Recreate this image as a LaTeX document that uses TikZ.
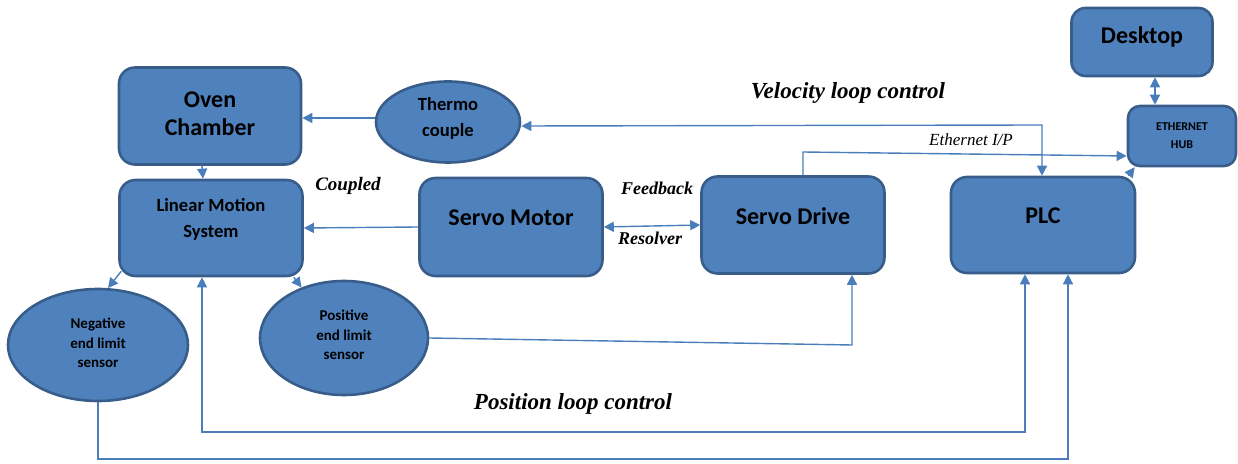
\documentclass[tikz,border=0pt]{standalone}
\usepackage{fontspec}
\setmainfont{Liberation Serif}
\newfontfamily\boxfont{Carlito}
\usetikzlibrary{arrows.meta}
\usetikzlibrary{shapes.geometric}
\definecolor{blkfill}{HTML}{4F81BD}
\definecolor{blkedge}{HTML}{385D8A}
\definecolor{wirecol}{HTML}{4A7EBB}
\tikzset{
  blk/.style={draw=blkedge,fill=blkfill,line width=1.3pt,rounded corners=8pt,inner sep=0pt},
  oval/.style={ellipse,draw=blkedge,fill=blkfill,line width=1.3pt,inner sep=0pt},
  big/.style={align=center,text=black,font=\boxfont\bfseries\fontsize{12}{14}\selectfont},
  mid/.style={align=center,text=black,font=\boxfont\bfseries\fontsize{9.3}{13}\selectfont},
  small/.style={align=center,text=black,font=\boxfont\bfseries\fontsize{7.5}{9.8}\selectfont},
  tiny/.style={align=center,text=black,font=\boxfont\bfseries\fontsize{6}{9}\selectfont},
  note/.style={font=\bfseries\itshape\fontsize{9}{11}\selectfont},
  loopnote/.style={font=\bfseries\itshape\fontsize{11.5}{13}\selectfont},
  wire/.style={draw=wirecol,line width=0.7pt},
  tip/.style={-{Triangle[length=5pt,width=5pt]}},
  tips/.style={{Triangle[length=5pt,width=5pt]}-{Triangle[length=5pt,width=5pt]}}
}

\begin{document}
\begin{tikzpicture}[x=0.5pt,y=-0.5pt]
\useasboundingbox (0,0) rectangle (1238,464);
\node [blk,minimum width=91pt,minimum height=48.5pt,label={[big,yshift=1pt]center:Oven\\Chamber}] (oven) at (210,116) {};
\node [blk,minimum width=91.5pt,minimum height=48pt,label={[mid,yshift=4.5pt]center:Linear Motion\\System}] (lms) at (211,228) {};
\node [blk,minimum width=91.5pt,minimum height=49pt,label={[big,yshift=4.5pt]center:Servo Motor}] (motor) at (511,227) {};
\node [blk,minimum width=91.5pt,minimum height=48.5pt,label={[big,yshift=4.5pt]center:Servo Drive}] (drive) at (793,225) {};
\node [blk,minimum width=92pt,minimum height=48pt,label={[big,yshift=4.5pt]center:PLC}] (plc) at (1043,225) {};
\node [blk,minimum width=70.5pt,minimum height=34pt,rounded corners=7pt,label={[big,yshift=2.5pt]center:Desktop}] (desk) at (1142,42) {};
\node [blk,minimum width=54pt,minimum height=30pt,rounded corners=6pt,label={[tiny]center:ETHERNET\\HUB}] (hub) at (1182,136) {};
\node [oval,minimum width=72pt,minimum height=40.5pt,label={[mid,yshift=2pt]center:Thermo\\couple}] (thermo) at (448,122) {};
\node [oval,minimum width=90pt,minimum height=56pt,label={[small,yshift=1pt]center:Negative\\end limit\\sensor}] (neg) at (98,345) {};
\node [oval,minimum width=84pt,minimum height=57pt,label={[small,yshift=1.5pt]center:Positive\\end limit\\sensor}] (pos) at (344,338) {};
\coordinate (tcorner) at ([yshift=2pt]thermo.west);
\coordinate (vcorner) at (1042,125);
\coordinate (ecorner) at (803,152);
\coordinate (pcorner) at (852,345);
\coordinate (lcorner) at (202,432);
\coordinate (rcorner) at (1025,432);
\coordinate (ncorner) at (98,459);
\coordinate (mcorner) at (1068,459);
\draw [wire,tip] (tcorner) -- (oven.east |- tcorner);
\draw [wire,tip] ([xshift=-4pt]oven.south) -- ([xshift=-4pt]lms.north);
\draw [wire,tip] (motor.west) -- (lms.east);
\draw [wire,tips] (motor.east) -- (drive.west);
\draw [wire,tips] ([yshift=-2pt]thermo.east) -- (vcorner) -- (vcorner |- plc.north);
\draw [wire,tip] (ecorner |- drive.north) -- (ecorner) -- ([yshift=-10pt]hub.west);
\draw [wire,tips] ([xshift=6.5pt]desk.south) -- ([xshift=6.5pt]desk.south |- hub.north);
\draw [wire,tip] ([xshift=-4pt]plc.north east) -- ([xshift=4pt]hub.south west);
\draw [wire,tip] ([xshift=1.5pt,yshift=3pt]lms.south west) -- (neg.80);
\draw [wire,tip] ([xshift=-5pt]lms.south east) -- (pos.130);
\draw [wire,tip] (pos.east) -- (pcorner) -- (pcorner |- drive.south);
\draw [wire,tips] (lcorner |- lms.south) -- (lcorner) -- (rcorner) -- (rcorner |- plc.south);
\draw [wire,tip] (neg.south) -- (ncorner) -- (mcorner) -- (mcorner |- plc.south);
\node [note,font=\bfseries\itshape\fontsize{9.5}{11}\selectfont] (coupled) at (348,186) {Coupled};
\node [note] (feedback) at (657,188) {Feedback};
\node [note] (resolver) at (650,238) {Resolver};
\node [loopnote] (velocity) at (848,93) {Velocity loop control};
\node [font=\itshape\fontsize{8.5}{10}\selectfont] (ethip) at (971,140) {Ethernet I/P};
\node [loopnote] (position) at (573,404) {Position loop control};
\end{tikzpicture}
\end{document}
